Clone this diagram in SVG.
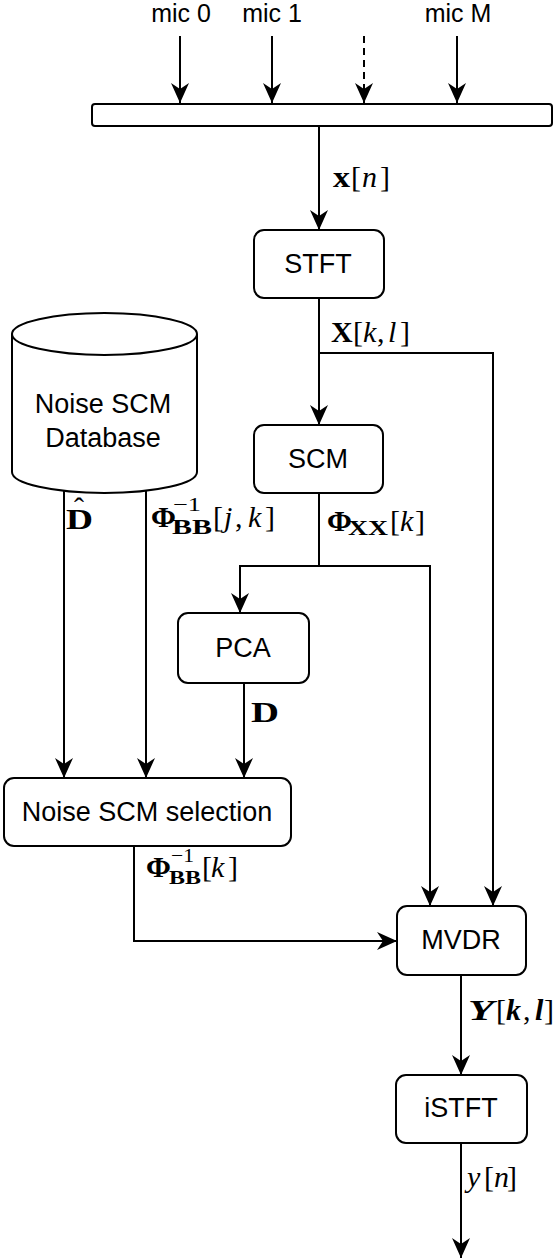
<svg xmlns="http://www.w3.org/2000/svg" width="554" height="1260" viewBox="0 0 554 1260">
<defs>
<marker id="a" viewBox="-21 -10 22 20" refX="0" refY="0" markerWidth="22" markerHeight="20" markerUnits="userSpaceOnUse" orient="auto">
<path d="M0,0 L-20,-9 L-14,0 L-20,9 Z" fill="#000"/>
</marker>
<style>
.box{fill:#fff;stroke:#000;stroke-width:2}
.c{fill:none;stroke:#000;stroke-width:2;marker-end:url(#a)}
.t{font-family:"Liberation Sans",Arial,sans-serif;font-size:27px;fill:#000;text-anchor:middle}
.mic{font-family:"Liberation Sans",Arial,sans-serif;font-size:25px;fill:#000;text-anchor:middle}
.m{font-family:"Liberation Serif","Times New Roman",serif;font-size:30px;fill:#000}
.s{font-size:19px}
.u{font-size:21px}
.b{font-weight:bold}
.i{font-style:italic}
</style>
</defs>
<rect width="554" height="1260" fill="#fff"/>

<g id="connectors">
<path class="c" d="M180,36 V103"/>
<path class="c" d="M272,36 V103"/>
<path class="c" d="M364,36 V103" stroke-dasharray="7,5"/>
<path class="c" d="M457,36 V103"/>
<path class="c" d="M319,126 V230"/>
<path class="c" d="M319,298 V425"/>
<path class="c" d="M319,353 H493 V906"/>
<path class="c" d="M319,493 V566 H240 V613"/>
<path class="c" d="M319,566 H430 V906"/>
<path class="c" d="M244,683 V778"/>
<path class="c" d="M64,491 V778"/>
<path class="c" d="M146,491 V778"/>
<path class="c" d="M134,846 V941 H397"/>
<path class="c" d="M461,975 V1075"/>
<path class="c" d="M461,1143 V1258"/>
</g>

<g id="mics">
<text class="mic" x="181" y="22">mic 0</text>
<text class="mic" x="272" y="22">mic 1</text>
<text class="mic" x="458" y="22">mic M</text>
</g>

<g id="bar">
<rect class="box" x="92" y="104" width="460" height="22" rx="3"/>
</g>

<g id="stft">
<rect class="box" x="254" y="230" width="130" height="68" rx="10"/>
<text class="t" x="318" y="273">STFT</text>
</g>

<g id="scm">
<rect class="box" x="254" y="425" width="129" height="68" rx="10"/>
<text class="t" x="318" y="468">SCM</text>
</g>

<g id="pca">
<rect class="box" x="178" y="613" width="131" height="70" rx="10"/>
<text class="t" x="243" y="657">PCA</text>
</g>

<g id="database">
<path class="box" d="M12,334 A92.5,21 0 0 1 197,334 V472 A92.5,21 0 0 1 12,472 Z"/>
<path d="M12,334 A92.5,21 0 0 0 197,334" fill="none" stroke="#000" stroke-width="2"/>
<text class="t" x="103" y="413">Noise SCM</text>
<text class="t" x="103" y="447">Database</text>
</g>

<g id="selection">
<rect class="box" x="4" y="778" width="287" height="68" rx="10"/>
<text class="t" x="147" y="821">Noise SCM selection</text>
</g>

<g id="mvdr">
<rect class="box" x="397" y="906" width="129" height="69" rx="10"/>
<text class="t" x="461" y="949">MVDR</text>
</g>

<g id="istft">
<rect class="box" x="396" y="1075" width="131" height="68" rx="10"/>
<text class="t" x="461" y="1117">iSTFT</text>
</g>

<g id="labels">
<text class="m" y="187"><tspan class="b" x="333" textLength="17" lengthAdjust="spacingAndGlyphs">x</tspan><tspan x="351">[</tspan><tspan class="i" x="362">n</tspan><tspan x="380">]</tspan></text>

<text class="m" y="342"><tspan class="b" x="331">X</tspan><tspan x="353">[</tspan><tspan class="i" x="363">k</tspan><tspan x="377">,</tspan><tspan class="i" x="388">l</tspan><tspan x="400">]</tspan></text>

<text class="m"><tspan class="b" x="327" y="531">Φ</tspan><tspan class="b u" x="348" y="535" textLength="40" lengthAdjust="spacingAndGlyphs">XX</tspan><tspan x="390" y="531">[</tspan><tspan class="i" x="400">k</tspan><tspan x="415">]</tspan></text>

<text class="m"><tspan class="b" x="66" y="529" textLength="27" lengthAdjust="spacingAndGlyphs">D</tspan><tspan x="74" y="518">ˆ</tspan></text>

<text class="m"><tspan class="b" x="151" y="527">Φ</tspan><tspan class="s" x="173" y="511" textLength="28" lengthAdjust="spacingAndGlyphs">−1</tspan><tspan class="b u" x="172" y="534" textLength="40" lengthAdjust="spacingAndGlyphs">BB</tspan><tspan x="213" y="527">[</tspan><tspan class="i" x="224">j</tspan><tspan x="235">,</tspan><tspan class="i" x="248">k</tspan><tspan x="265">]</tspan></text>

<text class="m" y="722"><tspan class="b" x="251" textLength="28" lengthAdjust="spacingAndGlyphs">D</tspan></text>

<text class="m"><tspan class="b" x="146" y="877">Φ</tspan><tspan class="s" x="171" y="862" font-size="16" textLength="23" lengthAdjust="spacingAndGlyphs">−1</tspan><tspan class="b" x="169" y="884" font-size="18" textLength="32" lengthAdjust="spacingAndGlyphs">BB</tspan><tspan x="202" y="877">[</tspan><tspan class="i" x="211">k</tspan><tspan x="228">]</tspan></text>

<text class="m" y="1020"><tspan class="b i" x="468" textLength="26" lengthAdjust="spacingAndGlyphs">Y</tspan><tspan x="496">[</tspan><tspan class="b i" x="506">k</tspan><tspan x="523">,</tspan><tspan class="b i" x="535">l</tspan><tspan x="544">]</tspan></text>

<text class="m" y="1187"><tspan class="i" x="467">y</tspan><tspan x="484">[</tspan><tspan class="i" x="494">n</tspan><tspan x="507">]</tspan></text>
</g>
</svg>
